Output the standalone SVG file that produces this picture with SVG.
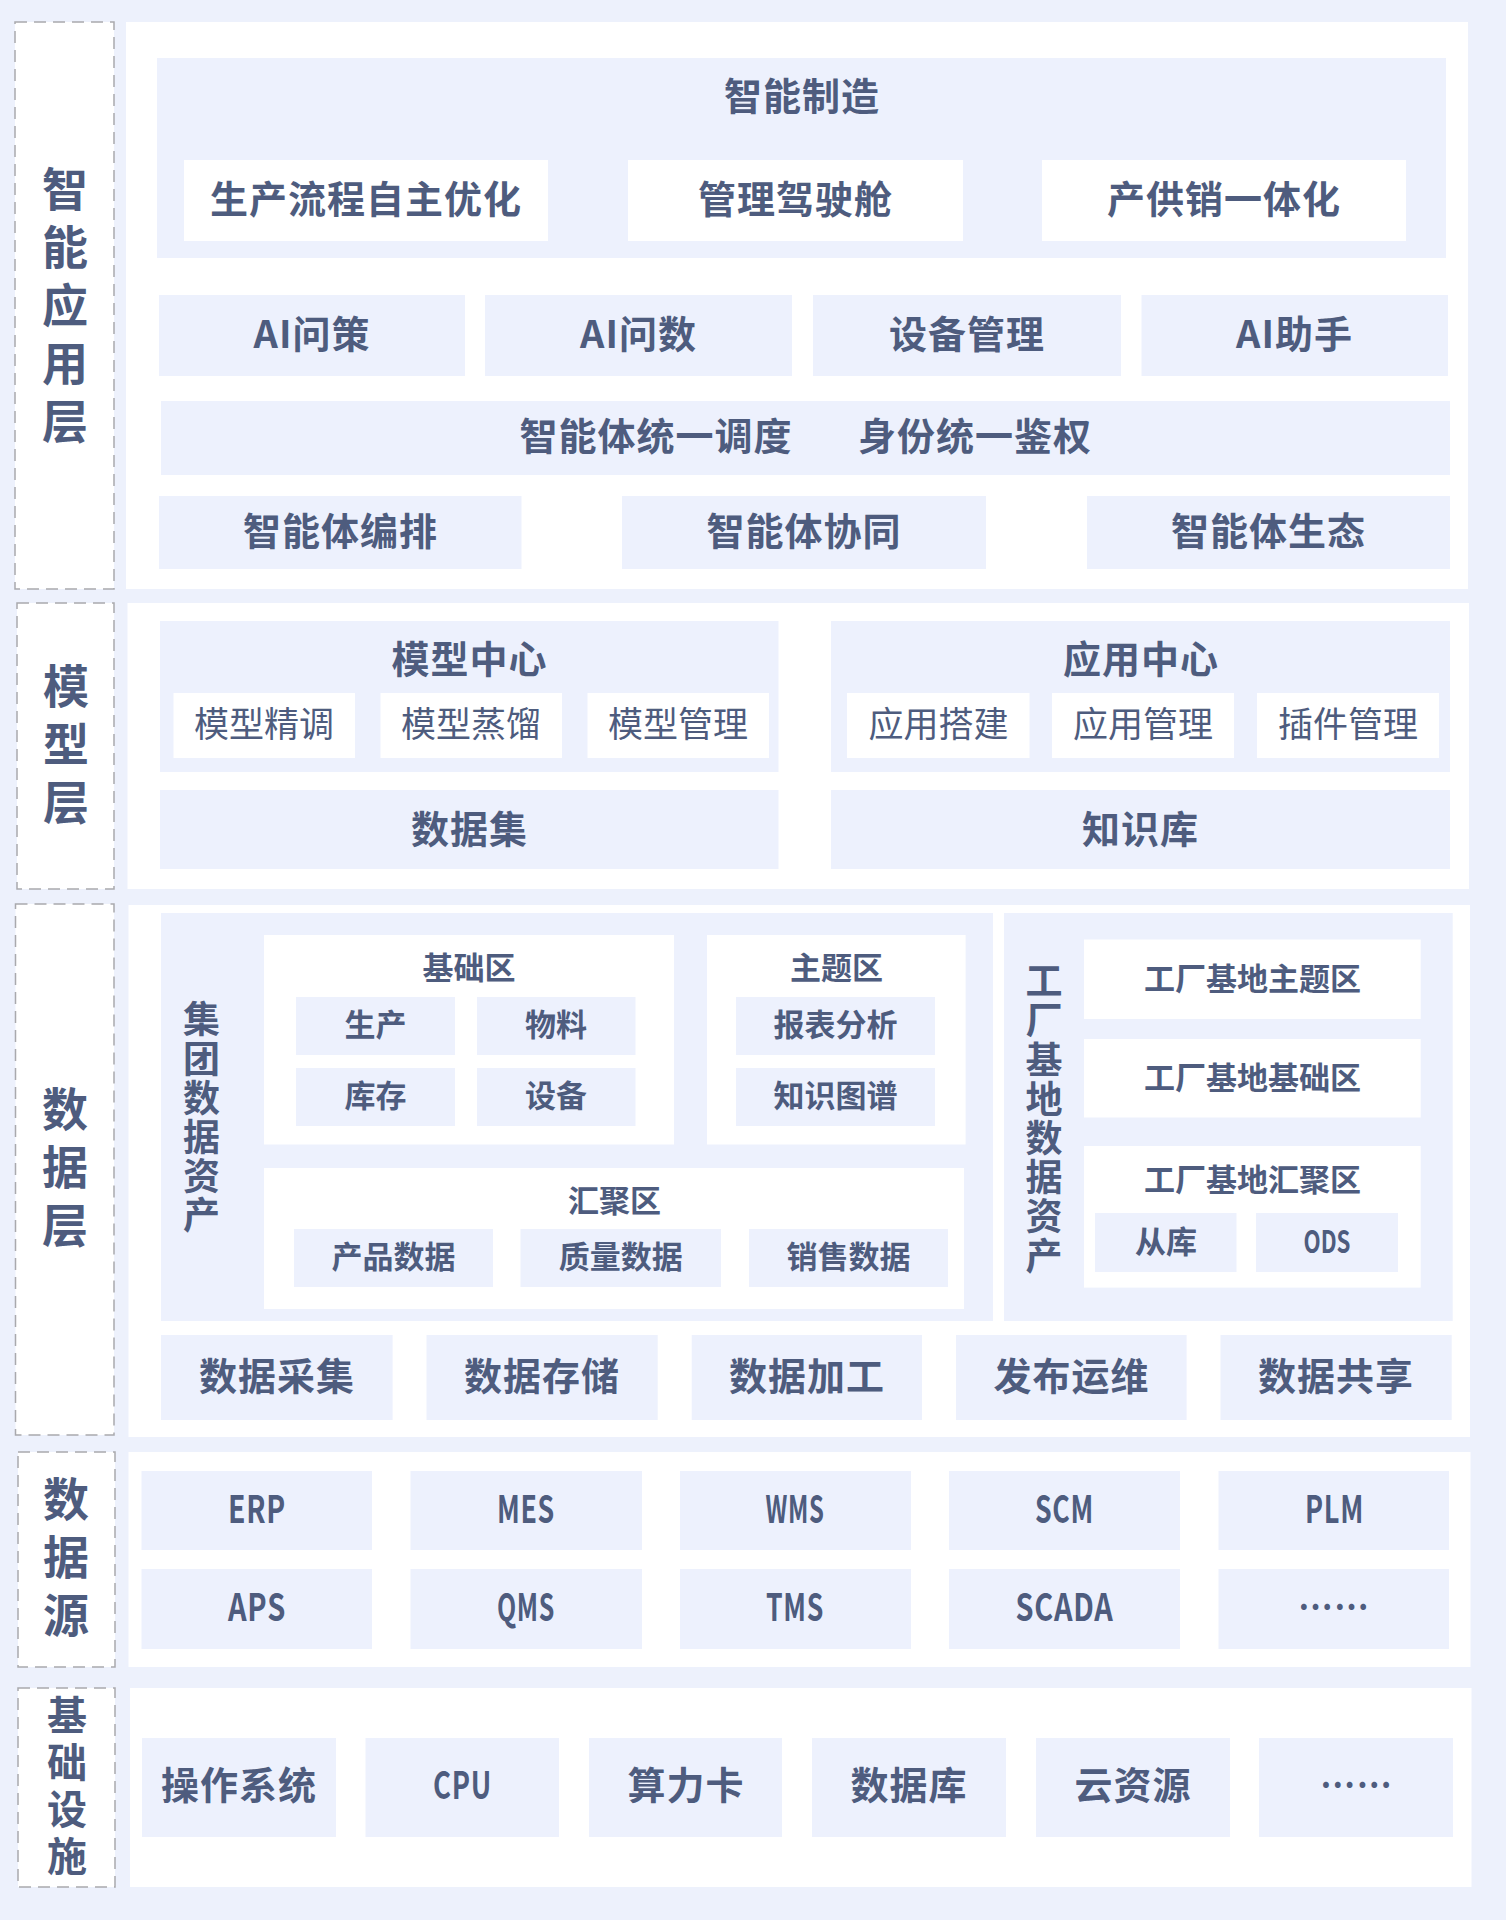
<svg xmlns="http://www.w3.org/2000/svg" width="1506" height="1920" viewBox="0 0 1506 1920">
<style>
.bg{fill:#EDF1FC}
.panel{fill:#FFFFFF}
.box{fill:#EDF1FD}
.wbox{fill:#FFFFFF}
.dash{fill:#FFFFFF;stroke:#A9A9AD;stroke-width:1.5;stroke-dasharray:12 7}
text{font-family:"Noto Sans CJK SC","Noto Sans",sans-serif;fill:#4E5C7E;font-weight:700;text-anchor:middle;dominant-baseline:central;font-size:38px;letter-spacing:1px}
.s{font-size:31px;letter-spacing:0}
.r{font-weight:400;font-size:35px;letter-spacing:0}
.v{font-size:46px;letter-spacing:12px;writing-mode:vertical-rl}
.vi{font-size:40px;letter-spacing:7px;writing-mode:vertical-rl}
.g{font-size:37px;letter-spacing:2.2px;writing-mode:vertical-rl}
</style>
<rect class="bg" x="0" y="0" width="1506" height="1920"/>

<!-- Layer 1: 智能应用层 -->
<g id="layer-app">
  <rect class="dash" x="15" y="22" width="99" height="567"/>
  <text class="v" x="65" y="311">智能应用层</text>
  <rect class="panel" x="126" y="22" width="1342" height="567"/>
</g>
<g id="smart-manufacturing">
  <rect class="box" x="157" y="58" width="1289" height="200"/>
  <text x="802" y="93">智能制造</text>
</g>
<g id="prod-opt"><rect class="wbox" x="184" y="160" width="364" height="81"/><text x="366" y="196">生产流程自主优化</text></g>
<g id="cockpit"><rect class="wbox" x="628" y="160" width="335" height="81"/><text x="795.5" y="196">管理驾驶舱</text></g>
<g id="supply"><rect class="wbox" x="1042" y="160" width="364" height="81"/><text x="1224" y="196">产供销一体化</text></g>
<g id="ai-decision"><rect class="box" x="159" y="295" width="306" height="81"/><text x="312" y="331">AI问策</text></g>
<g id="ai-data"><rect class="box" x="485" y="295" width="307" height="81"/><text x="638.5" y="331">AI问数</text></g>
<g id="equipment"><rect class="box" x="813" y="295" width="308" height="81"/><text x="967" y="331">设备管理</text></g>
<g id="ai-assistant"><rect class="box" x="1141.5" y="295" width="306.5" height="81"/><text x="1294.5" y="331">AI助手</text></g>
<g id="dispatch-auth"><rect class="box" x="161" y="401" width="1289" height="74"/><text x="656" y="433">智能体统一调度</text><text x="975" y="433">身份统一鉴权</text></g>
<g id="orchestration"><rect class="box" x="159" y="496" width="362.5" height="73"/><text x="340.5" y="528">智能体编排</text></g>
<g id="collaboration"><rect class="box" x="622" y="496" width="364" height="73"/><text x="804" y="528">智能体协同</text></g>
<g id="ecosystem"><rect class="box" x="1087" y="496" width="363" height="73"/><text x="1268.5" y="528">智能体生态</text></g>

<!-- Layer 2: 模型层 -->
<g id="layer-model">
  <rect class="dash" x="17" y="603" width="97" height="286"/>
  <text class="v" x="66" y="750">模型层</text>
  <rect class="panel" x="127.5" y="603" width="1341.5" height="286"/>
</g>
<g id="model-center">
  <rect class="box" x="160" y="621" width="618.5" height="151"/>
  <text x="469.5" y="656">模型中心</text>
</g>
<g id="fine-tune"><rect class="wbox" x="173.5" y="693" width="181.5" height="65"/><text class="r" x="264" y="721">模型精调</text></g>
<g id="distill"><rect class="wbox" x="380.5" y="693" width="181.5" height="65"/><text class="r" x="471" y="721">模型蒸馏</text></g>
<g id="model-mgmt"><rect class="wbox" x="587.5" y="693" width="181.5" height="65"/><text class="r" x="678" y="721">模型管理</text></g>
<g id="dataset"><rect class="box" x="160" y="790" width="618.5" height="79"/><text x="469.5" y="826">数据集</text></g>
<g id="app-center">
  <rect class="box" x="831" y="621" width="619" height="151"/>
  <text x="1141" y="656">应用中心</text>
</g>
<g id="app-build"><rect class="wbox" x="847" y="693" width="182.5" height="65"/><text class="r" x="938.5" y="721">应用搭建</text></g>
<g id="app-mgmt"><rect class="wbox" x="1052" y="693" width="182" height="65"/><text class="r" x="1143" y="721">应用管理</text></g>
<g id="plugin-mgmt"><rect class="wbox" x="1257" y="693" width="182" height="65"/><text class="r" x="1348" y="721">插件管理</text></g>
<g id="knowledge"><rect class="box" x="831" y="790" width="619" height="79"/><text x="1140.5" y="826">知识库</text></g>

<!-- Layer 3: 数据层 -->
<g id="layer-data">
  <rect class="dash" x="15.5" y="904" width="98.5" height="531"/>
  <text class="v" x="65" y="1173">数据层</text>
  <rect class="panel" x="128.5" y="905" width="1341.5" height="532"/>
</g>
<g id="group-assets">
  <rect class="box" x="161" y="913" width="832" height="408"/>
  <text class="g" x="201.5" y="1118.5">集团数据资产</text>
</g>
<g id="base-zone">
  <rect class="wbox" x="264" y="935" width="410" height="209.5"/>
  <text class="s" x="469" y="965.5">基础区</text>
</g>
<g id="z-production"><rect class="box" x="296" y="997" width="159" height="58"/><text class="s" x="375.5" y="1022.5">生产</text></g>
<g id="z-material"><rect class="box" x="477" y="997" width="158.5" height="58"/><text class="s" x="556" y="1022.5">物料</text></g>
<g id="z-inventory"><rect class="box" x="296" y="1068" width="159" height="58"/><text class="s" x="375.5" y="1093.5">库存</text></g>
<g id="z-device"><rect class="box" x="477" y="1068" width="158.5" height="58"/><text class="s" x="556" y="1093.5">设备</text></g>
<g id="topic-zone">
  <rect class="wbox" x="707" y="935" width="258.6" height="209.5"/>
  <text class="s" x="836.5" y="965.5">主题区</text>
</g>
<g id="z-report"><rect class="box" x="736" y="997" width="199" height="58"/><text class="s" x="835.5" y="1022.5">报表分析</text></g>
<g id="z-kg"><rect class="box" x="736" y="1068" width="199" height="58"/><text class="s" x="835.5" y="1093.5">知识图谱</text></g>
<g id="agg-zone">
  <rect class="wbox" x="264" y="1168" width="700" height="141"/>
  <text class="s" x="614.5" y="1198.5">汇聚区</text>
</g>
<g id="z-product"><rect class="box" x="294" y="1229" width="199" height="58"/><text class="s" x="393.5" y="1254.5">产品数据</text></g>
<g id="z-quality"><rect class="box" x="520.5" y="1229" width="200.5" height="58"/><text class="s" x="620.8" y="1254.5">质量数据</text></g>
<g id="z-sales"><rect class="box" x="749" y="1229" width="199" height="58"/><text class="s" x="848.5" y="1254.5">销售数据</text></g>
<g id="factory-assets">
  <rect class="box" x="1004" y="913" width="448.7" height="408"/>
  <text class="g" x="1044" y="1119.5">工厂基地数据资产</text>
</g>
<g id="f-topic"><rect class="wbox" x="1084" y="939.5" width="336.7" height="79.5"/><text class="s" x="1252.5" y="976">工厂基地主题区</text></g>
<g id="f-base"><rect class="wbox" x="1084" y="1039" width="336.7" height="78.5"/><text class="s" x="1252.5" y="1075.5">工厂基地基础区</text></g>
<g id="f-agg">
  <rect class="wbox" x="1084" y="1146" width="336.7" height="141.6"/>
  <text class="s" x="1252.5" y="1177.5">工厂基地汇聚区</text>
</g>
<g id="f-replica"><rect class="box" x="1095" y="1213" width="141.5" height="59"/><text class="s" x="1166" y="1239.5">从库</text></g>
<g id="f-ods"><rect class="box" x="1256" y="1213" width="142" height="59"/><text class="s" x="1327" y="1239.5" textLength="47" lengthAdjust="spacingAndGlyphs">ODS</text></g>
<g id="collect"><rect class="box" x="161" y="1335" width="231.6" height="85"/><text x="277" y="1373">数据采集</text></g>
<g id="store"><rect class="box" x="426.5" y="1335" width="231.2" height="85"/><text x="542" y="1373">数据存储</text></g>
<g id="process"><rect class="box" x="691.7" y="1335" width="230.3" height="85"/><text x="807" y="1373">数据加工</text></g>
<g id="publish"><rect class="box" x="956" y="1335" width="230.6" height="85"/><text x="1071.5" y="1373">发布运维</text></g>
<g id="share"><rect class="box" x="1220.5" y="1335" width="231.2" height="85"/><text x="1336" y="1373">数据共享</text></g>

<!-- Layer 4: 数据源 -->
<g id="layer-source">
  <rect class="dash" x="18" y="1452" width="97" height="215"/>
  <text class="v" x="66" y="1563">数据源</text>
  <rect class="panel" x="128.5" y="1452" width="1342" height="215"/>
</g>
<g id="erp"><rect class="box" x="141.5" y="1471" width="230.5" height="79"/><text x="257" y="1506" textLength="58" lengthAdjust="spacingAndGlyphs">ERP</text></g>
<g id="mes"><rect class="box" x="410.5" y="1471" width="231.5" height="79"/><text x="526" y="1506" textLength="58" lengthAdjust="spacingAndGlyphs">MES</text></g>
<g id="wms"><rect class="box" x="680" y="1471" width="231" height="79"/><text x="795" y="1506" textLength="59" lengthAdjust="spacingAndGlyphs">WMS</text></g>
<g id="scm"><rect class="box" x="949" y="1471" width="231" height="79"/><text x="1064.5" y="1506" textLength="59" lengthAdjust="spacingAndGlyphs">SCM</text></g>
<g id="plm"><rect class="box" x="1218.5" y="1471" width="230.5" height="79"/><text x="1334.5" y="1506" textLength="59" lengthAdjust="spacingAndGlyphs">PLM</text></g>
<g id="aps"><rect class="box" x="141.5" y="1569" width="230.5" height="80"/><text x="257" y="1604.5" textLength="58" lengthAdjust="spacingAndGlyphs">APS</text></g>
<g id="qms"><rect class="box" x="410.5" y="1569" width="231.5" height="80"/><text x="526" y="1604.5" textLength="58" lengthAdjust="spacingAndGlyphs">QMS</text></g>
<g id="tms"><rect class="box" x="680" y="1569" width="231" height="80"/><text x="795" y="1604.5" textLength="58" lengthAdjust="spacingAndGlyphs">TMS</text></g>
<g id="scada"><rect class="box" x="949" y="1569" width="231" height="80"/><text x="1064.5" y="1604.5" textLength="98" lengthAdjust="spacingAndGlyphs">SCADA</text></g>
<g id="src-more"><rect class="box" x="1218.5" y="1569" width="230.5" height="80"/><text x="1334" y="1604" textLength="72" lengthAdjust="spacingAndGlyphs">……</text></g>

<!-- Layer 5: 基础设施 -->
<g id="layer-infra">
  <rect class="dash" x="18" y="1688" width="97" height="199"/>
  <text class="vi" x="67" y="1788.5">基础设施</text>
  <rect class="panel" x="130" y="1688" width="1341.5" height="199"/>
</g>
<g id="os"><rect class="box" x="142" y="1738" width="194" height="99"/><text x="239" y="1782">操作系统</text></g>
<g id="cpu"><rect class="box" x="365.5" y="1738" width="193.5" height="99"/><text x="462.5" y="1782" textLength="59" lengthAdjust="spacingAndGlyphs">CPU</text></g>
<g id="gpu"><rect class="box" x="589" y="1738" width="193" height="99"/><text x="686" y="1782">算力卡</text></g>
<g id="database"><rect class="box" x="812" y="1738" width="194" height="99"/><text x="909" y="1782">数据库</text></g>
<g id="cloud"><rect class="box" x="1036" y="1738" width="194" height="99"/><text x="1133" y="1782">云资源</text></g>
<g id="infra-more"><rect class="box" x="1259" y="1738" width="194" height="99"/><text x="1356.5" y="1782" textLength="73" lengthAdjust="spacingAndGlyphs">……</text></g>

<g id="connectors"></g>
</svg>
